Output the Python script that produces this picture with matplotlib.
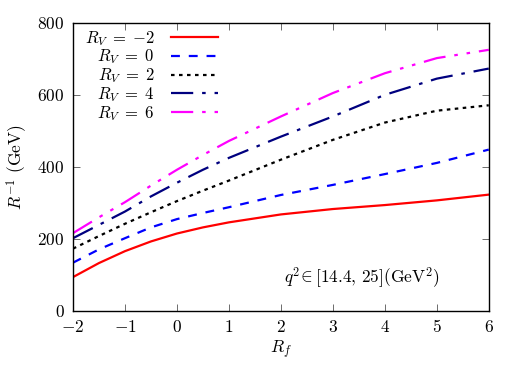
import matplotlib
matplotlib.use("Agg")
import matplotlib.pyplot as plt

plt.rcParams['font.family'] = 'serif'
plt.rcParams['font.serif'] = ['DejaVu Serif']
plt.rcParams['mathtext.fontset'] = 'cm'

# R_f values and R^{-1} (GeV) for each R_V
rf = [-2, -1.5, -1, -0.5, 0, 0.5, 1, 2, 3, 4, 5, 6]
r_m2 = [94, 133, 166, 193, 215, 232, 246, 268, 283, 294, 307, 323]
r_0 = [134, 171, 202, 232, 255, 272, 288, 322, 350, 380, 411, 448]
r_2 = [173, 208, 242, 274, 305, 334, 362, 420, 475, 523, 556, 571]
r_4 = [202, 239, 276, 318, 356, 392, 425, 484, 540, 600, 645, 673]
r_6 = [216, 260, 302, 348, 392, 433, 472, 540, 605, 660, 702, 725]

labels = ["$R_V\\;=\\;{-2}$", "$R_V\\;=\\;0$", "$R_V\\;=\\;2$",
          "$R_V\\;=\\;4$", "$R_V\\;=\\;6$"]
xticks = [-2, -1, 0, 1, 2, 3, 4, 5, 6]
yticks = [0, 200, 400, 600, 800]

fig = plt.figure(figsize=(5.25, 3.68), dpi=100)
ax = fig.add_axes([0.139, 0.155, 0.792, 0.783])

ax.plot(rf, r_m2, color="#ff0000", lw=1.6, ls="-", label=labels[0])
ax.plot(rf, r_0, color="#0000ff", lw=1.6, ls=(0, (4, 4)), label=labels[1])
ax.plot(rf, r_2, color="black", lw=1.6, ls=(0, (1.6, 2)), label=labels[2])
ax.plot(rf, r_4, color="#00007f", lw=1.6, ls=(0, (10, 4, 1.6, 4)), label=labels[3])
ax.plot(rf, r_6, color="#ff00ff", lw=1.6, ls=(0, (10, 4, 1.6, 4, 1.6, 4)), label=labels[4])

ax.set_xlim(-2, 6)
ax.set_ylim(0, 800)
ax.set_xticks(xticks)
ax.set_yticks(yticks)
ax.set_xticklabels(["$%d$" % v for v in xticks])
ax.set_yticklabels(["$%d$" % v for v in yticks])
ax.tick_params(direction="in", length=5, width=0.6, color="#555555",
               top=True, right=True, labelsize=12.5, pad=6)
for s in ax.spines.values():
    s.set_linewidth(1.0)

ax.set_xlabel("$R_f$", fontsize=12.5, labelpad=2)
ax.set_ylabel("$R^{-1}$ $\\mathrm{(GeV)}$", fontsize=12.5, labelpad=6)

ax.text(0.507, 0.1, "$q^2 \\!\\in [14.4,\\, 25] (\\mathrm{GeV}^2)$",
        transform=ax.transAxes, fontsize=12.5)

leg = ax.legend(loc="upper left", frameon=False, markerfirst=False,
                fontsize=12, labelspacing=0.0, handlelength=2.8,
                handletextpad=1.0, borderaxespad=0.3,
                bbox_to_anchor=(0.0, 1.02))

fig.savefig("out.png", dpi=100)
